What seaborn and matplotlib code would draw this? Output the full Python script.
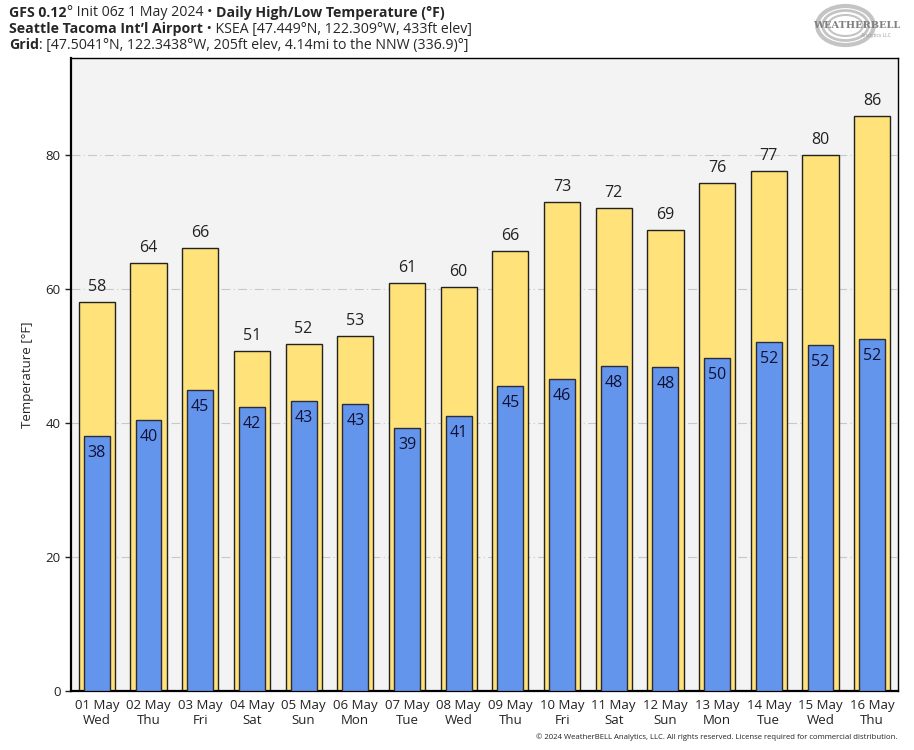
import matplotlib
matplotlib.use("Agg")
import matplotlib.pyplot as plt
import seaborn as sns
import pandas as pd
from matplotlib.patches import Ellipse

dates = ["01 May", "02 May", "03 May", "04 May", "05 May", "06 May", "07 May", "08 May",
         "09 May", "10 May", "11 May", "12 May", "13 May", "14 May", "15 May", "16 May"]
weekdays = ["Wed", "Thu", "Fri", "Sat", "Sun", "Mon", "Tue", "Wed",
            "Thu", "Fri", "Sat", "Sun", "Mon", "Tue", "Wed", "Thu"]
highs = [58.0, 63.8, 66.0, 50.7, 51.7, 52.9, 60.9, 60.2, 65.6, 72.9, 72.0, 68.7, 75.7, 77.5, 80.0, 85.7]
lows = [38.0, 40.4, 44.9, 42.3, 43.2, 42.8, 39.2, 41.0, 45.5, 46.5, 48.4, 48.3, 49.6, 52.0, 51.6, 52.5]
high_labels = ["58", "64", "66", "51", "52", "53", "61", "60", "66", "73", "72", "69", "76", "77", "80", "86"]
low_labels = ["38", "40", "45", "42", "43", "43", "39", "41", "45", "46", "48", "48", "50", "52", "52", "52"]

sns.set_style("white")
plt.rcParams['font.family'] = ['Open Sans', 'DejaVu Sans']

df = pd.DataFrame({"day": [f"{d}\n{w}" for d, w in zip(dates, weekdays)],
                   "high": highs, "low": lows})

fig = plt.figure(figsize=(9.14, 7.5), dpi=100)
ax = fig.add_axes([0.0777, 0.0787, 0.9048, 0.844])
ax.set_facecolor("#f3f3f3")

sns.barplot(data=df, x="day", y="high", color="#ffe27a", saturation=1, width=0.7,
            edgecolor="#222222", linewidth=1.0, ax=ax, zorder=2)
sns.barplot(data=df, x="day", y="low", color="#6495ed", saturation=1, width=0.5,
            edgecolor="#2b2b3b", linewidth=1.0, ax=ax, zorder=3)

ax.bar_label(ax.containers[0], labels=high_labels, padding=5, fontsize=11.5, color="#222222")
ax.bar_label(ax.containers[1], labels=low_labels, padding=-18, fontsize=11.5, color="#111133")

ax.set_ylim(0, 94.4)
ax.set_xlim(-0.5, 15.5)
ax.set_yticks([0, 20, 40, 60, 80])
ax.yaxis.grid(True, linestyle=(0, (8, 3, 1, 3)), color="#c8c8c8", linewidth=0.8, zorder=0)
ax.set_axisbelow(True)
ax.set_xlabel("")
ax.set_ylabel("Temperature [°F]", fontsize=9.5, labelpad=8)
ax.tick_params(axis="y", left=True, length=4, width=1, labelsize=9.5, colors="#222222")
ax.tick_params(axis="x", bottom=False, labelsize=9.5, pad=2, colors="#222222")
for s in ["left", "bottom"]:
    ax.spines[s].set_linewidth(1.6)
    ax.spines[s].set_color("black")
for s in ["top", "right"]:
    ax.spines[s].set_linewidth(1.0)
    ax.spines[s].set_color("black")

# header
fs = 10.2
y1, y2, y3 = 0.983, 0.961, 0.940
fig.canvas.draw()
def after(prev, s, **kw):
    bb = prev.get_window_extent()
    x = bb.x1 / fig.bbox.width
    return fig.text(x, prev.get_position()[1], s, va="center", fontsize=fs, **kw)
t = fig.text(0.010, y1, "GFS 0.12", fontsize=fs, fontweight="bold", va="center")
t2 = after(t, "° Init 06z 1 May 2024 • ")
t3 = after(t2, "Daily High/Low Temperature (°F)", fontweight="bold")

s1 = fig.text(0.010, y2, "Seattle Tacoma Int’l Airport", fontsize=fs, fontweight="bold", va="center")
s2 = after(s1, " • KSEA [47.449°N, 122.309°W, 433ft elev]")
g1 = fig.text(0.010, y3, "Grid", fontsize=fs, fontweight="bold", va="center")
g2 = after(g1, ": [47.5041°N, 122.3438°W, 205ft elev, 4.14mi to the NNW (336.9)°]")

# logo (approximation)
for w, h, lw in [(0.062, 0.052, 3.0), (0.050, 0.040, 2.0), (0.038, 0.028, 1.5)]:
    fig.add_artist(Ellipse((0.925, 0.966), w, h, transform=fig.transFigure, fill=False,
                           edgecolor="#c4c4c4", linewidth=lw))
fig.text(0.937, 0.966, "WEATHERBELL", fontsize=7, fontweight="bold", color="#808080",
         ha="center", va="center", family="DejaVu Serif")
fig.text(0.958, 0.953, "Analytics LLC", fontsize=3.5, color="#999999", ha="center", va="center")

fig.text(0.982, 0.017, "© 2024 WeatherBELL Analytics, LLC. All rights reserved. License required for commercial distribution.",
         fontsize=5.6, ha="right", va="center", color="#222222")

fig.savefig("out.png", dpi=100)
